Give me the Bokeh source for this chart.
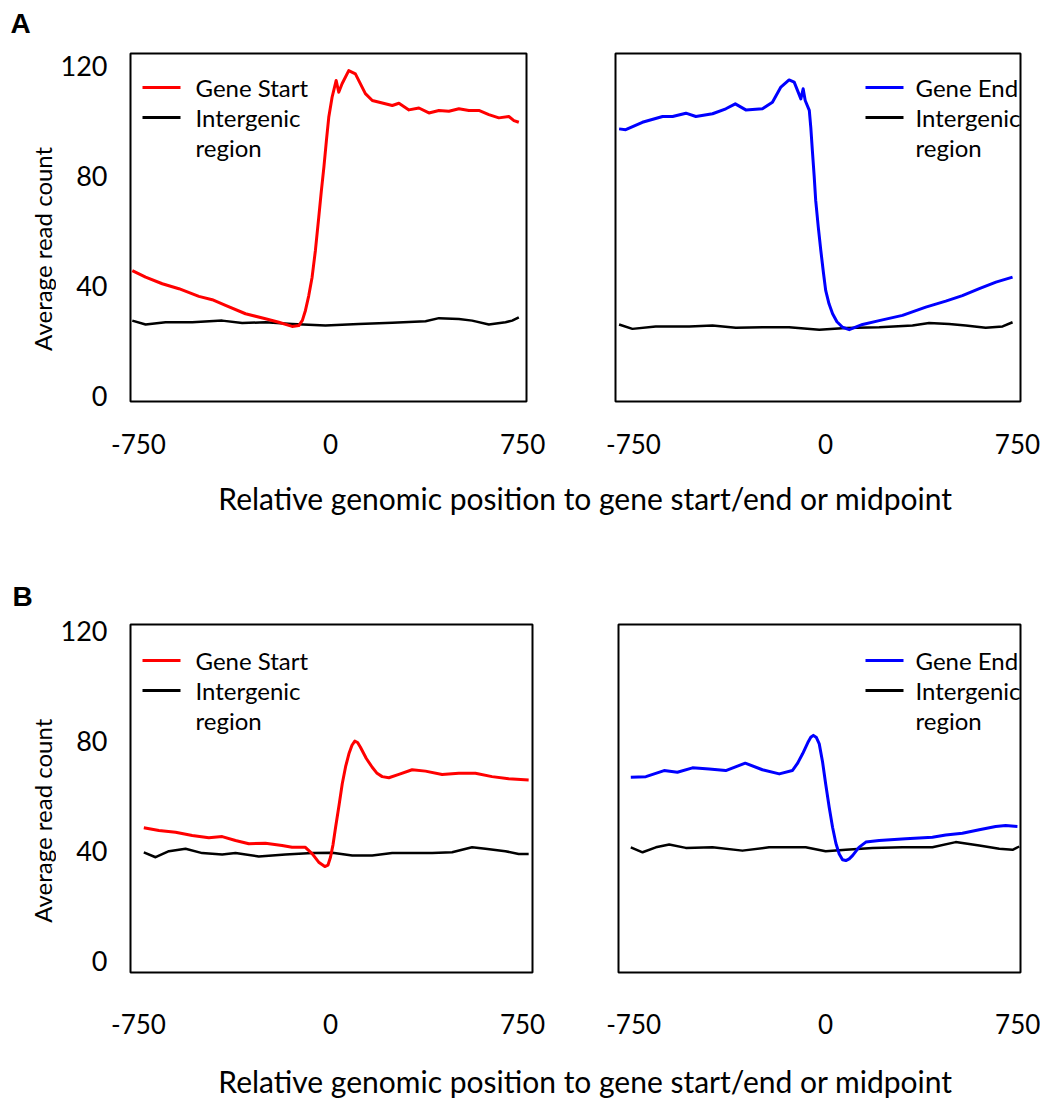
import math
from bokeh.plotting import figure
from bokeh.layouts import column, row
from bokeh.models import Range1d, FixedTicker
from bokeh.embed import file_html
from bokeh.resources import INLINE
from bokeh.core.properties import value

# ---------------- data ----------------
x_ticks = [-750, 0, 750]
x_tick_labels = {-750: "-750", 0: "0", 750: "750"}
y_ticks = [0, 40, 80, 120]
y_title = "Average read count"
x_title = "Relative genomic position to gene start/end or midpoint"

# Panel A, gene start (red)
a_start_x = [-774, -722, -657, -592, -514, -462, -410, -332, -254, -202, -150, -124, -110, -98, -85, -72, -59, -46, -36, -26, -16, -7, 6, 22, 32, 45, 71, 97, 136, 163, 241, 267, 306, 345, 384, 423, 462, 501, 540, 579, 618, 657, 696, 716, 735]
a_start_y = [45.6, 43.2, 40.8, 39.0, 36.2, 35.0, 32.9, 29.9, 28.1, 26.8, 25.3, 25.6, 27.5, 31.1, 36.5, 43.2, 53.0, 65.0, 74.5, 83.2, 93.0, 101.3, 108.6, 114.7, 110.4, 113.5, 118.3, 117.1, 109.9, 107.4, 105.6, 106.4, 104.0, 104.7, 102.9, 103.8, 103.5, 104.4, 103.8, 103.8, 102.3, 101.1, 101.6, 100.1, 99.5]
# Panel A, intergenic (left)
a_ig1_x = [-774, -722, -644, -540, -423, -345, -254, -150, -20, 110, 241, 371, 423, 501, 553, 618, 683, 709, 735]
a_ig1_y = [27.4, 26.0, 26.8, 26.8, 27.4, 26.5, 26.8, 26.2, 25.6, 26.2, 26.6, 27.2, 28.3, 28.0, 27.4, 26.0, 26.8, 27.4, 28.6]
# Panel A, gene end (blue)
a_end_x = [-806, -780, -715, -636, -597, -545, -506, -441, -389, -352, -311, -246, -207, -174, -142, -122, -96, -87, -79, -63, -57, -51, -44, -38, -28, -18, -8, 1, 14, 28, 45, 67, 93, 145, 210, 301, 392, 470, 535, 601, 666, 731]
a_end_y = [97.1, 96.8, 99.5, 101.6, 101.6, 102.8, 101.6, 102.6, 104.4, 106.2, 104.0, 104.4, 106.8, 112.3, 114.9, 114.1, 108.0, 111.7, 107.4, 103.8, 97.5, 89.2, 80.0, 71.1, 61.5, 52.9, 45.0, 38.4, 33.5, 29.9, 27.0, 25.0, 24.1, 26.0, 27.4, 29.3, 32.3, 34.5, 36.5, 39.0, 41.4, 43.2]
# Panel A, intergenic (right)
a_ig2_x = [-806, -754, -663, -532, -441, -350, -246, -142, -24, 80, 210, 340, 405, 483, 548, 626, 692, 731]
a_ig2_y = [26.0, 24.4, 25.3, 25.3, 25.6, 24.8, 25.0, 25.0, 24.1, 24.7, 25.0, 25.6, 26.5, 26.2, 25.6, 24.8, 25.3, 26.8]

# Panel B, gene start (red)
b_start_x = [-729, -670, -605, -540, -475, -423, -371, -319, -254, -189, -150, -98, -71, -46, -22, -10, 0, 10, 20, 33, 46, 59, 72, 84, 95, 106, 117, 140, 163, 182, 202, 228, 267, 319, 371, 436, 501, 566, 631, 696, 774]
b_start_y = [48.6, 47.6, 47.0, 45.8, 45.0, 45.4, 44.0, 42.8, 43.0, 42.2, 41.5, 41.5, 39.1, 36.1, 34.5, 35.0, 37.9, 42.5, 48.8, 56.5, 64.6, 70.8, 75.5, 78.6, 80.1, 79.6, 77.9, 73.8, 70.6, 68.4, 67.2, 66.8, 68.0, 69.7, 69.2, 68.0, 68.4, 68.4, 67.2, 66.4, 66.0]
# Panel B, intergenic (left)
b_ig1_x = [-729, -683, -631, -566, -501, -423, -371, -280, -176, -71, 7, 85, 163, 241, 319, 397, 475, 553, 605, 683, 735, 774]
b_ig1_y = [39.7, 37.9, 40.1, 41.0, 39.4, 38.9, 39.4, 38.2, 38.9, 39.4, 39.5, 38.5, 38.5, 39.4, 39.4, 39.4, 39.7, 41.5, 41.0, 40.1, 39.1, 39.1]
# Panel B, gene end (blue)
b_end_x = [-761, -702, -631, -579, -520, -455, -390, -314, -247, -181, -130, -110, -90, -70, -58, -48, -36, -25, -12, 0, 14, 27, 40, 53, 66, 79, 92, 105, 130, 157, 209, 313, 417, 469, 534, 600, 664, 703, 749]
b_end_y = [67.0, 67.2, 69.4, 68.8, 70.4, 70.0, 69.4, 72.1, 69.7, 68.2, 69.4, 72.0, 75.5, 79.5, 81.5, 82.2, 81.4, 79.1, 72.5, 64.6, 56.0, 48.8, 43.0, 39.1, 37.0, 36.7, 37.3, 38.5, 41.5, 43.4, 44.0, 44.6, 45.2, 46.0, 46.6, 47.9, 49.1, 49.4, 49.1]
# Panel B, intergenic (right)
b_ig2_x = [-761, -715, -663, -611, -546, -442, -325, -221, -78, 0, 79, 183, 300, 417, 508, 600, 678, 730, 756]
b_ig2_y = [41.5, 39.7, 41.5, 42.5, 41.3, 41.5, 40.3, 41.5, 41.5, 40.1, 40.6, 41.3, 41.5, 41.5, 43.4, 42.2, 41.0, 40.6, 41.8]

FONT = "Lato"
RED = "#ff0000"
BLUE = "#0000ff"
BLACK = "#000000"


def make_panel(xr, yr, fw, fh, mbl, mbr, mbt, mbb, show_y, series, legend, std_x):
    p = figure(frame_width=fw, frame_height=fh,
               x_range=Range1d(*xr), y_range=Range1d(*yr),
               output_backend="svg", toolbar_location=None,
               min_border_left=mbl, min_border_right=mbr,
               min_border_top=mbt, min_border_bottom=mbb)
    p.grid.visible = False
    p.outline_line_color = "black"
    p.outline_line_width = 2
    p.outline_line_alpha = 1.0
    p.background_fill_color = "white"
    p.border_fill_color = "white"

    p.xaxis.ticker = FixedTicker(ticks=x_ticks)
    p.xaxis.major_label_overrides = x_tick_labels
    p.xaxis.axis_line_color = None
    p.xaxis.major_tick_line_color = None
    p.xaxis.minor_tick_line_color = None
    p.xaxis.major_label_standoff = std_x
    p.xaxis.major_label_text_font = FONT
    p.xaxis.major_label_text_font_size = "26px"
    p.xaxis.major_label_text_color = "black"

    if show_y:
        p.yaxis.ticker = FixedTicker(ticks=y_ticks)
        p.yaxis.axis_line_color = None
        p.yaxis.major_tick_line_color = None
        p.yaxis.minor_tick_line_color = None
        p.yaxis.major_label_standoff = 17
        p.yaxis.major_label_text_font = FONT
        p.yaxis.major_label_text_font_size = "27px"
        p.yaxis.major_label_text_color = "black"
    else:
        p.yaxis.visible = False

    for xs, ys, col, lw in series:
        p.line(xs, ys, line_color=col, line_width=lw, line_join="round")

    # legend drawn inside the frame (clipped like the original)
    seg_x0, seg_x1, text_x, row_y, items = legend
    def dx(px):
        return xr[0] + px / fw * (xr[1] - xr[0])
    def dy(py):
        return yr[1] - py / fh * (yr[1] - yr[0])
    for i, (txt, col) in enumerate(items):
        if col is not None:
            p.segment(x0=[dx(seg_x0)], y0=[dy(row_y[i])], x1=[dx(seg_x1)], y1=[dy(row_y[i])],
                      line_color=col, line_width=3)
    p.text(x=[dx(text_x)] * len(items), y=[dy(v) for v in row_y],
           text=[t for t, _ in items],
           text_font=value(FONT), text_font_size="24px",
           text_baseline="middle", text_align="left", text_color="black")
    return p


def text_fig(w, h, items):
    p = figure(width=w, height=h, x_range=Range1d(0, w), y_range=Range1d(0, h),
               output_backend="svg", toolbar_location=None, min_border=0)
    p.axis.visible = False
    p.grid.visible = False
    p.outline_line_color = None
    for (x, y_top, txt, size, style, align, ang) in items:
        p.text(x=[x], y=[h - y_top], text=[txt],
               text_font=value(FONT if style == "normal" else "Liberation Sans"),
               text_font_size=size, text_font_style=style, angle=ang,
               text_baseline="middle", text_align=align, text_color="black")
    return p


# legend specs: (segment start, segment end, text x, row ys, items) in px from frame top-left
leg_left = (12, 50, 65, [34, 64, 94], [("Gene Start", RED), ("Intergenic", BLACK), ("region", None)])
leg_right = (250, 288, 300, [34, 64, 94], [("Gene End", BLUE), ("Intergenic", BLACK), ("region", None)])
leg_left_b = (12, 50, 65, [36, 66, 96], [("Gene Start", RED), ("Intergenic", BLACK), ("region", None)])
leg_right_b = (247, 285, 297, [36, 66, 96], [("Gene End", BLUE), ("Intergenic", BLACK), ("region", None)])

pAL = make_panel((-781, 765), (-2, 124.5), 396, 348, 74, 44, 12, 64, True,
                 [(a_ig1_x, a_ig1_y, BLACK, 2.5), (a_start_x, a_start_y, RED, 3)], leg_left, 26)
pAR = make_panel((-820, 762), (-2, 124.5), 405, 348, 45, 20, 12, 64, False,
                 [(a_ig2_x, a_ig2_y, BLACK, 2.5), (a_end_x, a_end_y, BLUE, 3)], leg_right, 26)
pBL = make_panel((-781, 789), (-4, 122.5), 402, 348, 74, 38, 11, 72, True,
                 [(b_ig1_x, b_ig1_y, BLACK, 2.5), (b_start_x, b_start_y, RED, 3)], leg_left_b, 35)
pBR = make_panel((-809, 761), (-4, 122.5), 402, 348, 48, 20, 11, 72, False,
                 [(b_ig2_x, b_ig2_y, BLACK, 2.5), (b_end_x, b_end_y, BLUE, 3)], leg_right_b, 35)

# row A spans page y 41..465 (424 px), row B spans 613..1044 (431 px)
ytA = text_fig(56, 424, [(42, 238, y_title, "24px", "normal", "center", math.pi / 2)])
ytB = text_fig(56, 431, [(42, 243, y_title, "24px", "normal", "center", math.pi / 2)])

hdr = text_fig(1040, 41, [(10, 23, "A", "28px", "bold", "left", 0)])
mid = text_fig(1040, 148, [(585, 32, x_title, "30px", "normal", "center", 0),
                           (12, 131, "B", "28px", "bold", "left", 0)])
bot = text_fig(1040, 56, [(585, 36, x_title, "30px", "normal", "center", 0)])

layout = column(hdr, row(ytA, pAL, pAR), mid, row(ytB, pBL, pBR), bot)

open("out.html", "w").write(file_html(layout, INLINE))
